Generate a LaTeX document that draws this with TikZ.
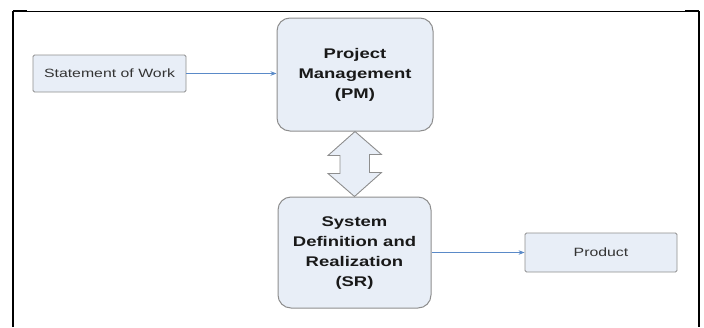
\documentclass[tikz,border=0pt]{standalone}
\usepackage{fontspec}
\setmainfont{Liberation Sans}
\usetikzlibrary{arrows.meta}
\definecolor{boxfill}{HTML}{E8EEF7}
\definecolor{boxline}{HTML}{8E8E8E}
\definecolor{arrowblue}{HTML}{5A8AC8}
\definecolor{txtgray}{HTML}{333333}
\tikzset{
  plainbox/.style={draw=boxline, fill=boxfill, line width=0.9pt, rounded corners=1.5pt,
    inner sep=0pt, text=txtgray, font=\fontsize{12}{15}\selectfont},
  roundbox/.style={draw=boxline, fill=boxfill, line width=1pt, rounded corners=13pt,
    inner sep=0pt, text=black!90, font=\bfseries\fontsize{14}{20}\selectfont},
  flow/.style={draw=arrowblue, line width=0.6pt, -{Stealth[length=6pt,width=4.5pt]}},
  frameline/.style={draw=black, line width=2pt},
  dblarrow/.style={draw=boxline, fill=boxfill, line width=0.9pt, line join=miter},
}
\newcommand{\wide}[1]{\scalebox{1.32}[1]{#1}}
\begin{document}
\begin{tikzpicture}[x=1pt,y=-1pt]
\useasboundingbox (0,0) rectangle (704,327);
% frame
\draw[frameline] (13,327) -- (13,11);
\draw[black, line width=1pt] (13,11) -- (699,11);
\draw[frameline] (13,11) -- (27,11);
\draw[frameline] (685,11) -- (699,11);
\draw[frameline] (699,11) -- (699,327);
% nodes
\node[plainbox, minimum width=153pt, minimum height=37pt] (sow) at (109.5,73.5)
  {\wide{Statement of Work}};
\node[roundbox, minimum width=156pt, minimum height=113pt] (pm) at (355,74.5)
  {\wide{\begin{tabular}{@{}c@{}}Project\\Management\\(PM)\end{tabular}}};
\node[roundbox, minimum width=153pt, minimum height=111pt] (sr) at (354.5,252.5)
  {\wide{\begin{tabular}{@{}c@{}}System\\Definition and\\Realization\\(SR)\end{tabular}}};
\node[plainbox, minimum width=152pt, minimum height=39pt] (prod) at (601,252.5)
  {\wide{Product}};
% connectors
\draw[flow] (sow.east) -- (sow.east -| pm.west);
\draw[flow] (sr.east |- prod.west) -- (prod.west);
% double arrow between PM and SR
\draw[dblarrow]
  (pm.south) -- ++(-27,24) -- ++(12,0) -- ++(0,18) -- ++(-12,0)
  -- (sr.north) -- ++(27,-24) -- ++(-12,0) -- ++(0,-18) -- ++(12,0) -- cycle;
\end{tikzpicture}
\end{document}
